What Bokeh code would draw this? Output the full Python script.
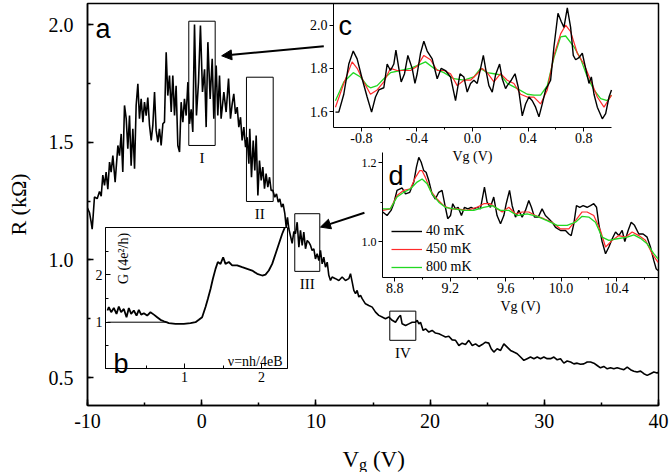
import math
from bokeh.plotting import figure
from bokeh.layouts import column
from bokeh.models import (Range1d, LinearAxis, FixedTicker, SingleIntervalTicker,
                          PrintfTickFormatter, Label, Arrow, NormalHead, Legend, LegendItem)
from bokeh.core.properties import value
from bokeh.embed import file_html
from bokeh.resources import INLINE

# ---------------- data: main trace R(Vg) ----------------
rise_vg = [-10.0, -9.82, -9.68, -9.59, -9.50, -9.39, -9.15, -8.95, -8.80, -8.66, -8.51, -8.37,
           -8.22, -8.07, -7.93, -7.78, -7.58, -7.34, -7.20, -7.05, -6.91, -6.76, -6.61, -6.47,
           -6.32, -6.18, -6.03, -5.88, -5.74, -5.59, -5.45, -5.30, -5.15, -5.01, -4.86, -4.72,
           -4.57, -4.42, -4.28, -4.13, -3.99, -3.84, -3.70, -3.55, -3.40, -3.26, -3.11, -2.97,
           -2.82, -2.67, -2.53, -2.38, -2.24, -2.09, -1.94, -1.80, -1.65, -1.51, -1.36, -1.21,
           -1.07, -0.92, -0.78, -0.63, -0.46, -0.28, -0.11, 0.07, 0.25, 0.39, 0.54, 0.74,
           0.92, 1.06, 1.27, 1.41, 1.56, 1.70, 1.94, 2.14, 2.35, 2.52]
rise_r = [1.22, 1.20, 1.16, 1.13, 1.19, 1.267, 1.26, 1.29, 1.27, 1.36, 1.316, 1.373,
          1.30, 1.415, 1.373, 1.443, 1.33, 1.486, 1.443, 1.535, 1.373, 1.656, 1.60, 1.472,
          1.613, 1.40, 1.557, 1.387, 1.656, 1.748, 1.60, 1.684, 1.585, 1.67, 1.613, 1.69,
          1.571, 1.507, 1.571, 1.713, 1.55, 1.50, 1.557, 1.486, 1.578, 1.585, 1.882, 1.698,
          1.783, 1.628, 1.783, 1.613, 1.74, 1.486, 1.458, 1.67, 1.585, 1.684, 1.613, 1.755,
          1.578, 1.64, 1.543, 2.0, 1.613, 1.755, 1.996, 1.713, 1.81, 1.564, 1.925, 1.684,
          1.854, 1.60, 1.826, 1.613, 1.783, 1.60, 1.713, 1.628, 1.77, 1.60]

fall_vg = [2.67, 2.81, 2.96, 3.11, 3.25, 3.40, 3.54, 3.69, 3.84, 3.98, 4.13, 4.21, 4.36, 4.51,
           4.65, 4.77, 4.92, 5.06, 5.21, 5.35, 5.50, 5.64, 5.79, 5.94, 6.08, 6.23, 6.40, 6.55,
           6.70, 6.84, 6.99, 7.13, 7.28, 7.40, 7.51, 7.63, 7.78, 7.92, 8.07, 8.21, 8.36, 8.51,
           8.65, 8.80, 8.94, 9.09, 9.24, 9.38, 9.53, 9.67, 9.82, 9.96, 10.11, 10.26, 10.40,
           10.55, 10.69, 10.84, 10.99, 11.13, 11.28, 11.42, 11.72, 12.01, 12.30, 12.59, 12.88,
           13.03, 13.18, 13.32, 13.47, 13.61, 13.76, 13.91, 14.05, 14.34, 14.63, 14.93, 15.22,
           15.51, 15.80, 16.09, 16.39, 16.68, 16.97, 17.26, 17.41, 17.55, 17.85, 18.14, 18.43]
fall_r = [1.663, 1.705, 1.62, 1.649, 1.564, 1.606, 1.507, 1.564, 1.479, 1.521, 1.408, 1.557,
          1.351, 1.507, 1.38, 1.528, 1.273, 1.422, 1.337, 1.394, 1.302, 1.366, 1.309, 1.351,
          1.295, 1.295, 1.266, 1.28, 1.245, 1.259, 1.224, 1.238, 1.196, 1.139, 1.181, 1.132,
          1.10, 1.07, 1.12, 1.111, 1.16, 1.054, 1.125, 1.061, 1.118, 1.047, 1.082, 1.075,
          1.061, 1.04, 1.047, 1.004, 1.026, 0.997, 1.04, 0.983, 1.011, 0.969, 0.99, 0.934,
          0.912, 0.927, 0.92, 0.912, 0.927, 0.912, 0.92, 0.941, 0.905, 0.87, 0.856, 0.87,
          0.842, 0.849, 0.835, 0.813, 0.806, 0.799, 0.778, 0.764, 0.757, 0.75, 0.757, 0.743,
          0.735, 0.757, 0.764, 0.728, 0.721, 0.728, 0.735]

tail_vg = [18.72, 18.87, 19.02, 19.16, 19.39, 19.60, 19.89, 20.18, 20.47, 20.77, 21.06, 21.35,
           21.64, 21.93, 22.23, 22.52, 22.81, 23.10, 23.39, 23.69, 23.98, 24.27, 24.56, 24.85,
           25.14, 25.35, 25.58, 25.87, 26.17, 26.46, 26.75, 27.04, 27.33, 27.63, 27.92, 28.21,
           28.50, 28.79, 29.09, 29.38, 29.67, 29.96, 30.25, 30.55, 30.84, 31.13, 31.42, 31.71,
           32.00, 32.30, 32.59, 32.88, 33.17, 33.46, 33.76, 34.05, 34.34, 34.63, 34.92, 35.21,
           35.51, 35.80, 36.09, 36.38, 36.67, 36.97, 37.26, 37.55, 37.84, 38.13, 38.43, 38.72,
           39.01, 39.30, 39.59, 39.88, 40.0]
tail_r = [0.735, 0.743, 0.728, 0.735, 0.70, 0.707, 0.693, 0.70, 0.689, 0.686, 0.679, 0.672,
          0.675, 0.66, 0.658, 0.636, 0.646, 0.64, 0.658, 0.636, 0.643, 0.632, 0.64, 0.65,
          0.646, 0.622, 0.608, 0.622, 0.615, 0.643, 0.629, 0.615, 0.608, 0.601, 0.587, 0.573,
          0.58, 0.587, 0.58, 0.587, 0.58, 0.587, 0.58, 0.58, 0.587, 0.575, 0.58, 0.561,
          0.57, 0.566, 0.558, 0.561, 0.556, 0.558, 0.566, 0.566, 0.561, 0.551, 0.541, 0.547,
          0.537, 0.541, 0.537, 0.541, 0.537, 0.533, 0.544, 0.533, 0.527, 0.523, 0.527, 0.516,
          0.509, 0.516, 0.523, 0.519, 0.523]

# regions I-IV marked on the main trace
box_names = ["I", "II", "III", "IV"]
box_left = [-1.13, 3.92, 8.15, 16.47]
box_right = [1.18, 6.26, 10.34, 18.75]
box_bottom = [1.486, 1.248, 0.951, 0.658]
box_top = [2.014, 1.776, 1.196, 0.782]

# ---------------- inset c: region I, three temperatures ----------------
c40_x = [-0.986, -0.962, -0.926, -0.89, -0.858, -0.83, -0.794, -0.758, -0.726, -0.698, -0.674,
         -0.638, -0.614, -0.590, -0.566, -0.551, -0.530, -0.513, -0.489, -0.465, -0.434, -0.414,
         -0.398, -0.374, -0.350, -0.326, -0.290, -0.254, -0.225, -0.194, -0.158, -0.122, -0.090,
         -0.062, -0.038, -0.014, 0.010, 0.034, 0.058, 0.078, 0.094, 0.118, 0.142, 0.166, 0.195,
         0.214, 0.238, 0.250, 0.279, 0.306, 0.330, 0.358, 0.382, 0.406, 0.430, 0.454, 0.478,
         0.502, 0.526, 0.562, 0.586, 0.615, 0.639, 0.658, 0.682, 0.706, 0.725, 0.742, 0.766,
         0.790, 0.814, 0.838, 0.855, 0.874, 0.898, 0.934, 0.958, 0.982, 1.0]
c40_r = [1.597, 1.597, 1.68, 1.82, 1.88, 1.844, 1.752, 1.667, 1.597, 1.667, 1.70, 1.71, 1.82,
         1.79, 1.82, 1.884, 1.80, 1.737, 1.775, 1.86, 1.80, 1.73, 1.775, 1.87, 1.926, 1.88,
         1.844, 1.752, 1.80, 1.79, 1.76, 1.65, 1.775, 1.76, 1.69, 1.73, 1.745, 1.73, 1.80,
         1.86, 1.80, 1.72, 1.69, 1.77, 1.82, 1.752, 1.706, 1.72, 1.745, 1.775, 1.71, 1.58,
         1.635, 1.667, 1.65, 1.62, 1.575, 1.635, 1.70, 1.745, 1.90, 2.055, 2.016, 1.99, 2.08,
         1.99, 1.86, 1.84, 1.85, 1.87, 1.80, 1.73, 1.76, 1.68, 1.62, 1.566, 1.59, 1.667, 1.70]
c450_x = [-0.986, -0.926, -0.866, -0.830, -0.782, -0.734, -0.686, -0.638, -0.590, -0.542, -0.494,
          -0.446, -0.398, -0.350, -0.302, -0.254, -0.206, -0.158, -0.110, -0.062, -0.014, 0.034,
          0.070, 0.106, 0.154, 0.202, 0.250, 0.298, 0.346, 0.394, 0.442, 0.490, 0.538, 0.586,
          0.634, 0.670, 0.706, 0.754, 0.802, 0.850, 0.898, 0.946, 1.0]
c450_r = [1.62, 1.73, 1.83, 1.80, 1.737, 1.68, 1.70, 1.737, 1.80, 1.79, 1.79, 1.79, 1.81, 1.86,
          1.84, 1.79, 1.79, 1.775, 1.72, 1.745, 1.745, 1.775, 1.80, 1.78, 1.737, 1.775, 1.745,
          1.73, 1.68, 1.667, 1.667, 1.635, 1.70, 1.86, 1.96, 2.0, 1.97, 1.87, 1.82, 1.745,
          1.667, 1.62, 1.676]
c800_x = [-0.986, -0.926, -0.858, -0.806, -0.758, -0.734, -0.686, -0.638, -0.590, -0.518, -0.446,
          -0.374, -0.338, -0.278, -0.206, -0.134, -0.062, 0.010, 0.058, 0.106, 0.154, 0.202,
          0.250, 0.322, 0.394, 0.442, 0.490, 0.538, 0.586, 0.634, 0.670, 0.730, 0.778, 0.826,
          0.874, 0.922, 0.970, 1.0]
c800_r = [1.65, 1.737, 1.78, 1.76, 1.72, 1.71, 1.72, 1.752, 1.78, 1.79, 1.80, 1.82, 1.83, 1.80,
          1.78, 1.752, 1.745, 1.76, 1.80, 1.78, 1.775, 1.77, 1.73, 1.706, 1.68, 1.676, 1.676,
          1.72, 1.85, 1.946, 1.95, 1.90, 1.844, 1.76, 1.70, 1.66, 1.65, 1.676]

# ---------------- inset d: region III, three temperatures ----------------
d40_x = [8.713, 8.744, 8.773, 8.792, 8.816, 8.853, 8.877, 8.908, 8.937, 8.956, 8.973, 8.990,
         9.009, 9.026, 9.045, 9.069, 9.093, 9.117, 9.141, 9.165, 9.182, 9.202, 9.218, 9.238,
         9.257, 9.281, 9.303, 9.327, 9.351, 9.370, 9.394, 9.418, 9.447, 9.466, 9.490, 9.514,
         9.538, 9.563, 9.587, 9.604, 9.628, 9.647, 9.671, 9.695, 9.719, 9.743, 9.767, 9.786,
         9.808, 9.835, 9.863, 9.887, 9.911, 9.935, 9.960, 9.996, 10.032, 10.056, 10.073, 10.092,
         10.111, 10.135, 10.159, 10.188, 10.212, 10.236, 10.256, 10.272, 10.296, 10.321, 10.345,
         10.369, 10.393, 10.417, 10.441, 10.460, 10.484, 10.506, 10.530, 10.561, 10.592, 10.621,
         10.645, 10.669, 10.686, 10.700]
d40_r = [1.075, 1.066, 1.079, 1.096, 1.13, 1.136, 1.121, 1.125, 1.151, 1.189, 1.214, 1.202,
         1.18, 1.176, 1.155, 1.121, 1.108, 1.125, 1.13, 1.087, 1.058, 1.066, 1.096, 1.083,
         1.087, 1.066, 1.087, 1.083, 1.087, 1.083, 1.087, 1.083, 1.138, 1.10, 1.087, 1.113,
         1.066, 1.045, 1.066, 1.096, 1.13, 1.091, 1.062, 1.079, 1.062, 1.079, 1.104, 1.087,
         1.062, 1.062, 1.083, 1.066, 1.058, 1.049, 1.036, 1.028, 1.028, 1.019, 1.015, 1.045,
         1.091, 1.087, 1.091, 1.087, 1.091, 1.096, 1.087, 1.045, 1.0, 0.969, 0.986, 1.007,
         1.024, 1.015, 1.028, 1.0, 1.028, 1.049, 1.041, 1.019, 1.019, 1.011, 0.986, 0.952,
         0.931, 0.926]
d450_x = [8.713, 8.768, 8.816, 8.865, 8.913, 8.949, 8.980, 8.997, 9.021, 9.057, 9.105, 9.153,
          9.202, 9.250, 9.322, 9.394, 9.442, 9.490, 9.538, 9.575, 9.623, 9.671, 9.719, 9.767,
          9.815, 9.875, 9.935, 9.996, 10.056, 10.104, 10.152, 10.188, 10.236, 10.284, 10.321,
          10.369, 10.417, 10.465, 10.513, 10.561, 10.609, 10.657, 10.700]
d450_r = [1.079, 1.083, 1.117, 1.13, 1.134, 1.163, 1.18, 1.18, 1.163, 1.13, 1.108, 1.091, 1.083,
          1.083, 1.079, 1.087, 1.096, 1.096, 1.083, 1.075, 1.087, 1.07, 1.075, 1.075, 1.066,
          1.058, 1.049, 1.032, 1.032, 1.053, 1.075, 1.075, 1.066, 1.028, 0.986, 1.003, 1.015,
          1.011, 1.024, 1.015, 1.003, 0.969, 0.947]
d800_x = [8.713, 8.768, 8.816, 8.865, 8.913, 8.961, 8.997, 9.033, 9.069, 9.117, 9.165, 9.226,
          9.298, 9.370, 9.442, 9.502, 9.563, 9.623, 9.683, 9.755, 9.827, 9.899, 9.972, 10.044,
          10.104, 10.152, 10.200, 10.248, 10.296, 10.345, 10.405, 10.477, 10.525, 10.573,
          10.621, 10.669, 10.700]
d800_r = [1.083, 1.083, 1.113, 1.125, 1.134, 1.151, 1.159, 1.147, 1.121, 1.10, 1.087, 1.083,
          1.079, 1.079, 1.087, 1.091, 1.079, 1.079, 1.066, 1.07, 1.064, 1.053, 1.041, 1.041,
          1.049, 1.064, 1.062, 1.049, 1.011, 1.003, 1.007, 1.011, 1.017, 1.008, 0.994, 0.969,
          0.956]
temps = ["40 mK", "450 mK", "800 mK"]

# ---------------- inset b: conductance vs filling ----------------
b_nu = [0.0, 0.017, 0.048, 0.082, 0.117, 0.147, 0.177, 0.212, 0.247, 0.277, 0.307, 0.342, 0.377,
        0.407, 0.437, 0.472, 0.515, 0.558, 0.602, 0.645, 0.688, 0.732, 0.797, 0.883, 0.991,
        1.078, 1.143, 1.186, 1.229, 1.273, 1.303, 1.338, 1.368, 1.403, 1.433, 1.468, 1.502,
        1.532, 1.576, 1.619, 1.684, 1.749, 1.814, 1.879, 1.944, 2.009, 2.052, 2.095, 2.139,
        2.182, 2.225, 2.268, 2.303]
b_g = [1.246, 1.32, 1.21, 1.30, 1.176, 1.33, 1.21, 1.28, 1.105, 1.30, 1.176, 1.246, 1.14, 1.26,
       1.16, 1.19, 1.14, 1.21, 1.16, 1.105, 1.05, 1.02, 0.98, 0.965, 0.965, 0.98, 1.0, 1.05,
       1.105, 1.32, 1.49, 1.70, 1.91, 2.125, 2.27, 2.23, 2.37, 2.23, 2.27, 2.20, 2.20, 2.16,
       2.125, 2.09, 2.02, 1.985, 2.005, 2.09, 2.23, 2.44, 2.65, 2.86, 3.0]
b_ref_nu = [0.0, 0.78]
b_ref_g = [1.0, 1.0]

# x-axis title pieces: "V" + subscript "g" + "(V)"
xtitle_text = ["V", "g", "(V)"]

# ---------------- layout (page pixels; the Bokeh page itself has no margin) ----------------
W, H_MAIN, H_TITLE = 670, 440, 32
FL, FR, FT, FB = 87, 658, 3, 405
SERIF = "Liberation Serif"
SANS = "Liberation Sans"


def lin(a, pa, b, pb):
    k = (b - a) / (pb - pa)
    return lambda px: a + (px - pa) * k


mx, my = lin(-10, 87, 40, 658), lin(2.0, 24, 0.5, 377)
cx, cy = lin(-1.0, 333, 1.0, 611), lin(2.0, 24.7, 1.6, 111)
dx, dy = lin(8.8, 394.3, 10.4, 616), lin(1.2, 162.3, 1.0, 241)
bx, by = lin(1, 184, 2, 261), lin(1, 321.7, 2, 274.3)

p = figure(width=W, height=H_MAIN, output_backend="svg", toolbar_location=None,
           x_range=Range1d(mx(FL), mx(FR)), y_range=Range1d(my(FB), my(FT)),
           min_border_left=FL, min_border_right=W - FR, min_border_top=FT,
           min_border_bottom=H_MAIN - FB)
p.extra_x_ranges = {"cx": Range1d(cx(FL), cx(FR)), "dx": Range1d(dx(FL), dx(FR)),
                    "bx": Range1d(bx(FL), bx(FR))}
p.extra_y_ranges = {"cy": Range1d(cy(FB), cy(FT)), "dy": Range1d(dy(FB), dy(FT)),
                    "by": Range1d(by(FB), by(FT))}
p.xgrid.visible = False
p.ygrid.visible = False
p.outline_line_color = "black"
p.outline_line_width = 1.5
p.background_fill_color = "white"
p.border_fill_color = "white"

xa = p.xaxis[0]
xa.ticker = SingleIntervalTicker(interval=10, num_minor_ticks=2)
xa.formatter = PrintfTickFormatter(format="%d")
ya = p.yaxis[0]
ya.ticker = SingleIntervalTicker(interval=0.5, num_minor_ticks=2)
ya.formatter = PrintfTickFormatter(format="%.1f")
for ax in (xa, ya):
    ax.axis_line_width = 1.5
    ax.major_tick_line_width = 1.5
    ax.minor_tick_line_width = 1.5
    ax.major_tick_in, ax.major_tick_out = 6, 0
    ax.minor_tick_in, ax.minor_tick_out = 3, 0
    ax.major_label_text_font = SERIF
    ax.major_label_text_font_size = "20px"
    ax.major_label_text_color = "black"
    ax.axis_line_color = "black"
    ax.major_tick_line_color = "black"
    ax.minor_tick_line_color = "black"
xa.major_label_standoff = 8
ya.major_label_standoff = 14
ya.axis_label = "R (kΩ)"
ya.axis_label_text_font = SERIF
ya.axis_label_text_font_size = "22px"
ya.axis_label_text_font_style = "normal"
ya.axis_label_text_color = "black"
ya.axis_label_standoff = 15


def inset_axis(side, xr, yr, loc, bounds, ticks, minor, fmt, fs, tin, tout, mtin, mtout,
               label=None, standoff=2):
    ax = LinearAxis(x_range_name=xr, y_range_name=yr, fixed_location=loc, bounds=bounds,
                    ticker=FixedTicker(ticks=ticks, minor_ticks=minor),
                    formatter=PrintfTickFormatter(format=fmt))
    ax.major_tick_in, ax.major_tick_out = tin, tout
    ax.minor_tick_in, ax.minor_tick_out = mtin, mtout
    ax.major_label_text_font = SERIF
    ax.major_label_text_font_size = fs
    ax.major_label_text_color = "black"
    ax.major_label_standoff = standoff
    ax.axis_line_color = "black"
    ax.major_tick_line_color = "black"
    ax.minor_tick_line_color = "black"
    if label:
        ax.axis_label = label
        ax.axis_label_text_font = SERIF
        ax.axis_label_text_font_size = "14px"
        ax.axis_label_text_font_style = "normal"
        ax.axis_label_text_color = "black"
        ax.axis_label_standoff = 2
    p.add_layout(ax, side)


# ---- inset b (white box)
p.quad(left=[bx(105)], right=[bx(287)], bottom=[by(368)], top=[by(227)], x_range_name="bx",
       y_range_name="by", fill_color="white", line_color="black", line_width=1)

# ---- main trace, boxes, labels
p.line(rise_vg + fall_vg + tail_vg, rise_r + fall_r + tail_r, line_color="black", line_width=1.6)
p.quad(left=box_left, right=box_right, bottom=box_bottom, top=box_top, fill_color=None,
       line_color="black", line_width=1)
p.text(x=[(l + r) / 2 for l, r in zip(box_left, box_right)], y=box_bottom, text=box_names,
       y_offset=13, text_font=value(SERIF), text_font_size="15px", text_align="center",
       text_baseline="middle", text_color="black")

p.add_layout(Arrow(end=NormalHead(size=10, fill_color="black", line_color="black"),
                   x_start=10.69, y_start=1.908, x_end=1.75, y_end=1.867,
                   line_color="black", line_width=2))
p.add_layout(Arrow(end=NormalHead(size=10, fill_color="black", line_color="black"),
                   x_start=14.25, y_start=1.20, x_end=10.40, y_end=1.139,
                   line_color="black", line_width=2))

# ---- inset b content
p.line(b_ref_nu, b_ref_g, x_range_name="bx", y_range_name="by", line_color="black", line_width=1)
p.line(b_nu, b_g, x_range_name="bx", y_range_name="by", line_color="black", line_width=1.8)
inset_axis("below", "bx", "by", by(368), (bx(105), bx(287)), [1, 2], [0.5, 1.5], "%d", "14px",
           5, 0, 3, 0, standoff=3)
inset_axis("left", "bx", "by", bx(105), (by(368), by(227)), [1, 2], [0.5, 1.5, 2.5], "%d", "14px",
           5, 0, 3, 0, standoff=3)

# ---- inset c
p.line(c800_x, c800_r, x_range_name="cx", y_range_name="cy", line_color="#22d822", line_width=1.3)
p.line(c450_x, c450_r, x_range_name="cx", y_range_name="cy", line_color="#ff2a2a", line_width=1.2)
p.line(c40_x, c40_r, x_range_name="cx", y_range_name="cy", line_color="black", line_width=1.4)
inset_axis("below", "cx", "cy", cy(126.7), (-1.0, 1.0), [-0.8, -0.4, 0.0, 0.4, 0.8],
           [-0.6, -0.2, 0.2, 0.6], "%.1f", "14px", 0, 4, 0, 2, label="Vg (V)")
inset_axis("left", "cx", "cy", -1.0, (cy(126.7), cy(FT)), [1.6, 1.8, 2.0], [], "%.1f", "14px",
           0, 4, 0, 0)

# ---- inset d
r40 = p.line(d40_x, d40_r, x_range_name="dx", y_range_name="dy", line_color="black", line_width=1.4)
r450 = p.line(d450_x, d450_r, x_range_name="dx", y_range_name="dy", line_color="#ff2a2a", line_width=1.2)
r800 = p.line(d800_x, d800_r, x_range_name="dx", y_range_name="dy", line_color="#22d822", line_width=1.3)
inset_axis("below", "dx", "dy", dy(276.7), (dx(382), dx(FR)), [8.8, 9.2, 9.6, 10.0, 10.4],
           [9.0, 9.4, 9.8, 10.2, 10.6], "%.1f", "14px", 0, 4, 0, 2, label="Vg (V)")
inset_axis("left", "dx", "dy", dx(382), (dy(276.7), dy(152)), [1.0, 1.2], [1.1], "%.1f", "12px",
           0, 4, 0, 2)

legend = Legend(items=[LegendItem(label=t, renderers=[r]) for t, r in zip(temps, [r40, r450, r800])],
                location=(391 - FL, FB - 276), glyph_width=31, glyph_height=18, label_height=18,
                label_standoff=4, padding=0, spacing=0, margin=0, border_line_color=None,
                background_fill_alpha=0, label_text_font=SERIF, label_text_font_size="14px",
                label_text_color="black")
p.add_layout(legend)

# ---- panel letters and inset texts
for txt, px, base in [("a", 95, 28), ("b", 113, 363), ("c", 338, 25), ("d", 388, 175)]:
    p.add_layout(Label(x=px - FL, y=FB - base, x_units="screen", y_units="screen", text=txt,
                       text_font=SANS, text_font_size="27px", text_baseline="alphabetic",
                       text_color="black"))
p.add_layout(Label(x=282 - FL, y=FB - 361, x_units="screen", y_units="screen", text="ν=nh/4eB",
                   text_font=SERIF, text_font_size="14px", text_align="right",
                   text_baseline="alphabetic", text_color="black"))
p.add_layout(Label(x=123 - FL, y=FB - 258, x_units="screen", y_units="screen", text="G (4e²/h)",
                   text_font=SERIF, text_font_size="14px", text_align="center",
                   text_baseline="middle", angle=math.pi / 2, text_color="black"))

# ---- strip below the main plot carrying the x-axis title with its subscript;
#      same horizontal frame and Vg scale as the main plot
t = figure(width=W, height=H_TITLE, output_backend="svg", toolbar_location=None,
           x_range=Range1d(mx(FL), mx(FR)), y_range=Range1d(H_TITLE, 0),
           x_axis_location=None, y_axis_location=None,
           min_border_left=FL, min_border_right=W - FR, min_border_top=0, min_border_bottom=0)
t.outline_line_color = None
t.xgrid.visible = False
t.ygrid.visible = False
t.border_fill_color = "white"
t.background_fill_color = "white"
t.text(x=[mx(342), mx(358.6), mx(372.4)], y=[459 - H_MAIN, 464 - H_MAIN, 459 - H_MAIN],
       text=xtitle_text, text_font=value(SERIF), text_font_size=["23px", "16px", "23px"],
       text_align="left", text_baseline="alphabetic", text_color="black")

open("out.html", "w").write(file_html(column(p, t, spacing=0), INLINE))
